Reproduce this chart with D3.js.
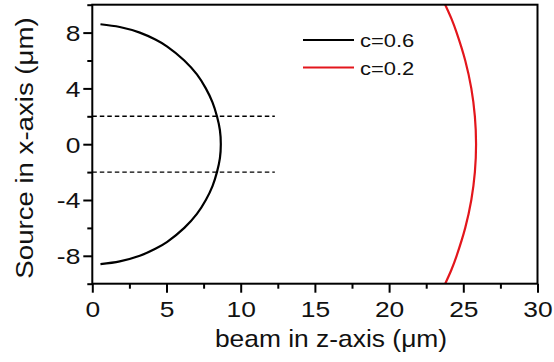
<!DOCTYPE html>
<html>
<head>
<meta charset="utf-8">
<script src="https://cdn.jsdelivr.net/npm/d3@7"></script>
<style>
  body { margin: 0; background: #fff; }
  svg { display: block; }
</style>
</head>
<body>
<div id="chart"></div>
<script>
  const width = 554;
  const height = 362;
  const marginTop = 4.7;
  const marginRight = 16.5;
  const marginBottom = 78.3;
  const marginLeft = 92.3;

  // c=0.6 curve: source position (x-axis) vs beam position (z-axis)
  const blackSource = [8.6, 8.4, 8.0, 7.5, 7.0, 6.0, 5.0, 4.0, 3.0, 2.0, 1.0, 0, -1.0, -2.0, -3.0, -4.0, -5.0, -6.0, -7.0, -7.5, -8.0, -8.4, -8.6];
  const blackBeam   = [0.55, 1.85, 3.2, 4.25, 5.05, 6.2, 7.05, 7.65, 8.1, 8.4, 8.6, 8.66, 8.6, 8.4, 8.1, 7.65, 7.05, 6.2, 5.05, 4.25, 3.2, 1.85, 0.55];

  // c=0.2 curve
  const redSource = [10, 9, 8, 6, 4, 2, 0, -2, -4, -6, -8, -9, -10];
  const redBeam   = [23.78, 24.2, 24.55, 25.13, 25.54, 25.78, 25.86, 25.78, 25.54, 25.13, 24.55, 24.2, 23.78];

  // dashed guide lines
  const dashedLevels = [2, -2];
  const dashedRange = [0, 12.3];

  const xMajor = [0, 5, 10, 15, 20, 25, 30];
  const xMinor = [2.5, 7.5, 12.5, 17.5, 22.5, 27.5];
  const yMajor = [-8, -4, 0, 4, 8];
  const yMinor = [-10, -6, -2, 2, 6, 10];

  const legendItems = ["c=0.6", "c=0.2"];
  const legendColors = ["#000000", "#e3161c"];

  const font = "'Liberation Sans', Arial, Helvetica, sans-serif";
  const sx = 1.2; // glyphs in the original are a bit wider than Arial

  const x = d3.scaleLinear([0, 30], [marginLeft, width - marginRight]);
  const y = d3.scaleLinear([-10, 10], [height - marginBottom, marginTop]);

  const svg = d3.select("#chart")
    .append("svg")
    .attr("width", width)
    .attr("height", height)
    .attr("viewBox", [0, 0, width, height]);

  svg.append("defs").append("clipPath").attr("id", "clip")
    .append("rect")
    .attr("x", x(0)).attr("y", y(10))
    .attr("width", x(30) - x(0)).attr("height", y(-10) - y(10));

  // dashed lines
  svg.append("g")
    .selectAll("line")
    .data(dashedLevels)
    .join("line")
    .attr("x1", x(dashedRange[0]))
    .attr("x2", x(dashedRange[1]))
    .attr("y1", d => y(d))
    .attr("y2", d => y(d))
    .attr("stroke", "#000")
    .attr("stroke-width", 1.4)
    .attr("stroke-dasharray", "4.5,3");

  const line = d3.line()
    .x(d => x(d[0]))
    .y(d => y(d[1]))
    .curve(d3.curveCatmullRom);

  const curves = [
    { pts: d3.zip(blackBeam, blackSource), color: legendColors[0] },
    { pts: d3.zip(redBeam, redSource), color: legendColors[1] }
  ];

  svg.append("g")
    .attr("clip-path", "url(#clip)")
    .selectAll("path")
    .data(curves)
    .join("path")
    .attr("fill", "none")
    .attr("stroke", d => d.color)
    .attr("stroke-width", 2.2)
    .attr("d", d => line(d.pts));

  // axes
  function styleAxis(g) {
    g.select(".domain").remove();
    g.selectAll("line").attr("stroke", "#000").attr("stroke-width", 2);
  }

  const plain = d => String(d); // hyphen-minus like the original

  const gx = svg.append("g").attr("transform", `translate(0,${y(-10)})`);
  gx.append("g").call(d3.axisBottom(x).tickValues(xMinor).tickSize(5).tickFormat("")).call(styleAxis);
  gx.append("g").call(d3.axisBottom(x).tickValues(xMajor).tickSize(9).tickPadding(9).tickFormat(plain)).call(styleAxis)
    .call(g => g.selectAll("text")
      .attr("font-family", font)
      .attr("font-size", 22)
      .attr("fill", "#111")
      .attr("transform", `scale(${sx},1)`)
      .attr("x", 0));

  const gy = svg.append("g").attr("transform", `translate(${x(0)},0)`);
  gy.append("g").call(d3.axisLeft(y).tickValues(yMinor).tickSize(5).tickFormat("")).call(styleAxis);
  gy.append("g").call(d3.axisLeft(y).tickValues(yMajor).tickSize(9).tickFormat(plain)).call(styleAxis)
    .call(g => g.selectAll("text")
      .attr("font-family", font)
      .attr("font-size", 22)
      .attr("fill", "#111")
      .attr("x", -12 / sx)
      .attr("dy", "0.36em")
      .attr("transform", `scale(${sx},1)`));

  // frame
  svg.append("rect")
    .attr("x", x(0)).attr("y", y(10))
    .attr("width", x(30) - x(0)).attr("height", y(-10) - y(10))
    .attr("fill", "none")
    .attr("stroke", "#000")
    .attr("stroke-width", 2);

  // axis titles
  svg.append("text")
    .attr("transform", `translate(331,347) scale(1.1,1)`)
    .attr("text-anchor", "middle")
    .attr("font-family", font)
    .attr("font-size", 24)
    .attr("fill", "#111")
    .text("beam in z-axis (\u03bcm)");

  svg.append("text")
    .attr("transform", `translate(33,148) rotate(-90) scale(1.15,1)`)
    .attr("text-anchor", "middle")
    .attr("font-family", font)
    .attr("font-size", 24)
    .attr("fill", "#111")
    .text("Source in x-axis (\u03bcm)");

  // legend
  const legend = svg.append("g")
    .selectAll("g")
    .data(legendItems)
    .join("g")
    .attr("transform", (d, i) => `translate(303,${40 + i * 27.5})`);

  legend.append("line")
    .attr("x1", 0).attr("x2", 51)
    .attr("stroke", (d, i) => legendColors[i])
    .attr("stroke-width", 2.2);

  legend.append("text")
    .attr("transform", `translate(57,7) scale(1.22,1)`)
    .attr("font-family", font)
    .attr("font-size", 18)
    .attr("fill", "#111")
    .text(d => d);
</script>
</body>
</html>
